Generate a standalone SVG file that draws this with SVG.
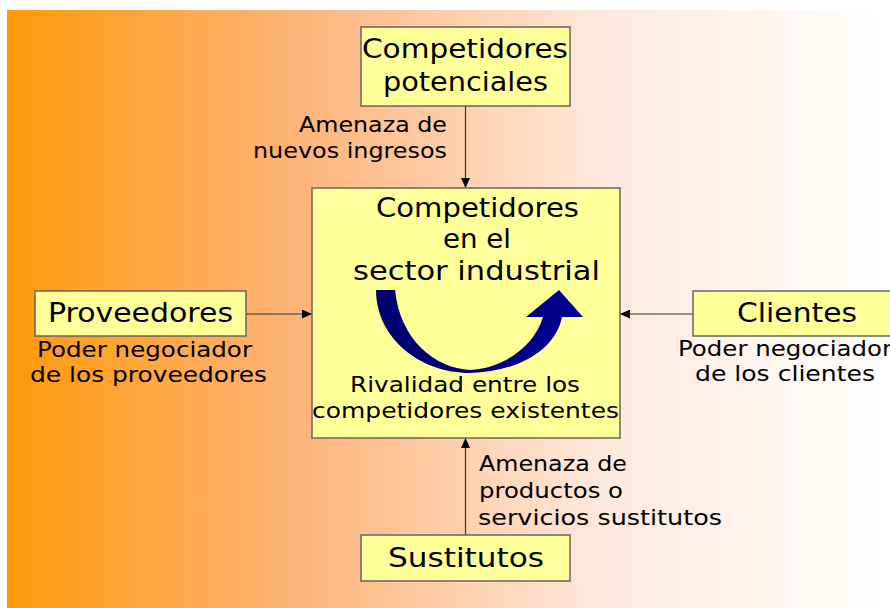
<svg xmlns="http://www.w3.org/2000/svg" width="890" height="608" viewBox="0 0 890 608">
<defs>
<linearGradient id="bg" x1="7" y1="0" x2="890" y2="0" gradientUnits="userSpaceOnUse">
<stop offset="0" stop-color="#FF990A"/>
<stop offset="0.33" stop-color="#FDB478"/>
<stop offset="0.67" stop-color="#FDE8DC"/>
<stop offset="1" stop-color="#FFFFFF"/>
</linearGradient>
<linearGradient id="arr" x1="0" y1="0" x2="1" y2="0">
<stop offset="0" stop-color="#00006E"/>
<stop offset="1" stop-color="#000090"/>
</linearGradient>
<marker id="ah" markerUnits="userSpaceOnUse" markerWidth="10" markerHeight="9" refX="10" refY="4.5" orient="auto">
<path d="M0,0 L10,4.5 L0,9 Z" fill="#000"/>
</marker>
<style>
.box{fill:#FFFF99;stroke:#666;stroke-width:1.5}
.t{font-family:"DejaVu Sans","Liberation Sans",sans-serif;fill:#000}
.big{font-size:26px}
.sm{font-size:22px}
.con{stroke:#333;stroke-width:1.2;fill:none;marker-end:url(#ah)}
</style>
</defs>
<rect x="0" y="0" width="890" height="608" fill="#FFFFFF"/>
<rect x="7" y="10" width="883" height="598" fill="url(#bg)"/>

<g id="connectors">
<line class="con" x1="465.5" y1="106" x2="465.5" y2="188"/>
<line class="con" x1="247" y1="314" x2="312" y2="314"/>
<line class="con" x1="693" y1="314" x2="620" y2="314"/>
<line class="con" x1="465.5" y1="535" x2="465.5" y2="438"/>
</g>

<g id="potenciales">
<rect class="box" x="361" y="27" width="209" height="79"/>
<text class="t big" x="362" y="58" textLength="206" lengthAdjust="spacingAndGlyphs">Competidores</text>
<text class="t big" x="383" y="91" textLength="165" lengthAdjust="spacingAndGlyphs">potenciales</text>
</g>

<g id="label-nuevos">
<text class="t sm" x="299" y="132" textLength="148" lengthAdjust="spacingAndGlyphs">Amenaza de</text>
<text class="t sm" x="253" y="158" textLength="194" lengthAdjust="spacingAndGlyphs">nuevos ingresos</text>
</g>

<g id="sector">
<rect class="box" x="312" y="188" width="308" height="250"/>
<text class="t big" x="376" y="217" textLength="203" lengthAdjust="spacingAndGlyphs">Competidores</text>
<text class="t big" x="443" y="248" textLength="68" lengthAdjust="spacingAndGlyphs">en el</text>
<text class="t big" x="353" y="280" textLength="247" lengthAdjust="spacingAndGlyphs">sector industrial</text>
<path d="M376,290 L395,290 C400,340 435,368 470,370 C505,368 535,345 543,317 L526,317 L559,290 L583,317 L562,317 C555,352 515,372 470,373 C420,373 376,338 376,290 Z" fill="url(#arr)"/>
<text class="t sm" x="350" y="392" textLength="230" lengthAdjust="spacingAndGlyphs">Rivalidad entre los</text>
<text class="t sm" x="312" y="418" textLength="307" lengthAdjust="spacingAndGlyphs">competidores existentes</text>
</g>

<g id="proveedores">
<rect class="box" x="35" y="291" width="211" height="45"/>
<text class="t big" x="48" y="322" textLength="185" lengthAdjust="spacingAndGlyphs">Proveedores</text>
</g>
<g id="label-proveedores">
<text class="t sm" x="37" y="357" textLength="215" lengthAdjust="spacingAndGlyphs">Poder negociador</text>
<text class="t sm" x="30" y="382" textLength="237" lengthAdjust="spacingAndGlyphs">de los proveedores</text>
</g>

<g id="clientes">
<rect class="box" x="693" y="291" width="200" height="45"/>
<text class="t big" x="737" y="322" textLength="120" lengthAdjust="spacingAndGlyphs">Clientes</text>
</g>
<g id="label-clientes">
<text class="t sm" x="678" y="356" textLength="214" lengthAdjust="spacingAndGlyphs">Poder negociador</text>
<text class="t sm" x="695" y="381" textLength="180" lengthAdjust="spacingAndGlyphs">de los clientes</text>
</g>

<g id="label-sustitutos">
<text class="t sm" x="479" y="471" textLength="148" lengthAdjust="spacingAndGlyphs">Amenaza de</text>
<text class="t sm" x="479" y="498" textLength="144" lengthAdjust="spacingAndGlyphs">productos o</text>
<text class="t sm" x="478" y="525" textLength="244" lengthAdjust="spacingAndGlyphs">servicios sustitutos</text>
</g>

<g id="sustitutos">
<rect class="box" x="361" y="535" width="209" height="46"/>
<text class="t big" x="388" y="567" textLength="156" lengthAdjust="spacingAndGlyphs">Sustitutos</text>
</g>
</svg>
